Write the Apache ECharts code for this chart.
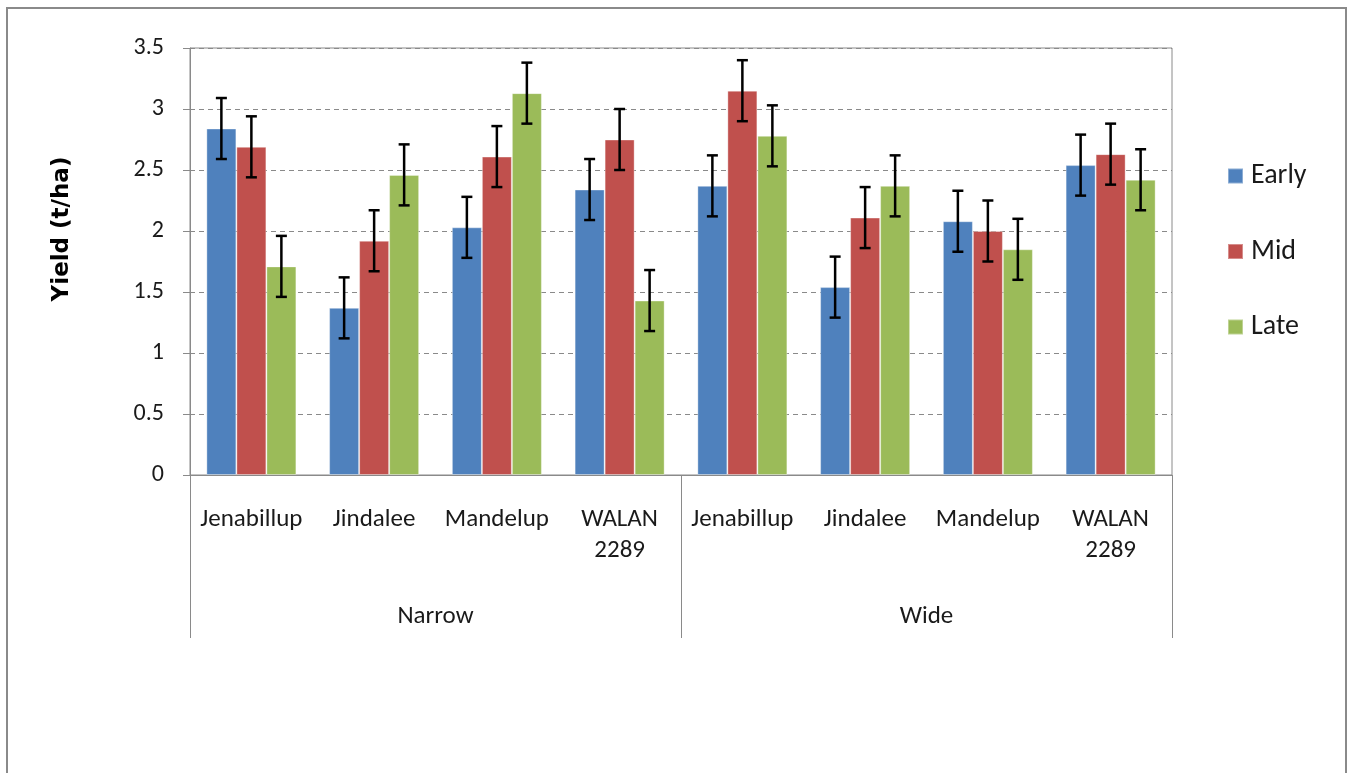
<!DOCTYPE html>
<html>
<head>
<meta charset="utf-8">
<script src="https://cdn.jsdelivr.net/npm/echarts@6/dist/echarts.min.js"></script>
<style>
html,body{margin:0;padding:0;background:#fff;}
#chart{width:1349px;height:773px;}
</style>
</head>
<body>
<div id="chart"></div>
<script>
// ---- data ----
const categories = ['Jenabillup', 'Jindalee', 'Mandelup', 'WALAN\n2289', 'Jenabillup', 'Jindalee', 'Mandelup', 'WALAN\n2289'];
const groups = ['Narrow', 'Wide'];
const seriesNames = ['Early', 'Mid', 'Late'];
const early = [2.84, 1.37, 2.03, 2.34, 2.37, 1.54, 2.08, 2.54];
const mid   = [2.69, 1.92, 2.61, 2.75, 3.15, 2.11, 2.00, 2.63];
const late  = [1.71, 2.46, 3.13, 1.43, 2.78, 2.37, 1.85, 2.42];
const errEarly = [0.25, 0.25, 0.25, 0.25, 0.25, 0.25, 0.25, 0.25];
const errMid   = [0.25, 0.25, 0.25, 0.25, 0.25, 0.25, 0.25, 0.25];
const errLate  = [0.25, 0.25, 0.25, 0.25, 0.25, 0.25, 0.25, 0.25];
const yTicks = [0, 0.5, 1, 1.5, 2, 2.5, 3, 3.5];

// ---- build ----
const values = [early, mid, late];
const errs = [errEarly, errMid, errLate];
const colors = ['#4F81BD', '#C0504D', '#9BBB59'];
const FONT = 'Carlito, Lato, sans-serif';
const GRAY = '#8a8a8a';
const BAR_W = 30;

const errData = [];
values.forEach((arr, s) => {
  arr.forEach((v, i) => {
    errData.push([i, v - errs[s][i], v + errs[s][i], s]);
  });
});

const barSeries = values.map((arr, s) => ({
  name: seriesNames[s],
  type: 'bar',
  data: arr,
  barWidth: BAR_W,
  barGap: '0%',
  itemStyle: { color: colors[s], borderColor: 'rgba(255,255,255,0.35)', borderWidth: 1 },
  emphasis: { disabled: true }
}));

const chart = echarts.init(document.getElementById('chart'));
chart.setOption({
  animation: false,
  backgroundColor: '#fff',
  textStyle: { fontFamily: FONT },
  graphic: [
    { type: 'rect', shape: { x: 7, y: 8, width: 1339, height: 790 },
      style: { fill: 'none', stroke: GRAY, lineWidth: 2 }, silent: true },
    { type: 'text', x: 62, y: 229, rotation: Math.PI / 2,
      style: { text: 'Yield (t/ha)', fontSize: 23, fontWeight: 'bold', fontFamily: '"DejaVu Sans", sans-serif',
               fill: '#000', align: 'center', verticalAlign: 'middle' } }
  ],
  grid: { left: 190, right: 177, top: 48, bottom: 298, show: true,
          borderColor: GRAY, borderWidth: 1, containLabel: false },
  legend: {
    orient: 'vertical', left: 1222, top: 157,
    itemWidth: 15, itemHeight: 15, itemGap: 47.5,
    icon: 'rect',
    data: seriesNames,
    textStyle: { fontSize: 28, lineHeight: 28, color: '#1a1a1a', fontFamily: FONT, padding: [0, 0, 0, 3] }
  },
  xAxis: [
    {
      type: 'category', data: categories, position: 'bottom',
      axisLine: { show: true, lineStyle: { color: GRAY, width: 1 } },
      axisTick: { show: false },
      axisLabel: { interval: 0, fontSize: 25, lineHeight: 31, margin: 29, color: '#1a1a1a', fontFamily: FONT }
    },
    {
      type: 'category', data: groups, position: 'bottom', offset: 0,
      axisLine: { show: false },
      axisTick: { show: true, length: 163, interval: 0, lineStyle: { color: GRAY, width: 1 } },
      axisLabel: { interval: 0, fontSize: 25, margin: 129, color: '#1a1a1a', fontFamily: FONT }
    }
  ],
  yAxis: {
    type: 'value', min: 0, max: 3.5, interval: 0.5,
    axisLine: { show: true, lineStyle: { color: GRAY, width: 1 } },
    axisTick: { show: true, length: 7, lineStyle: { color: GRAY } },
    axisLabel: { fontSize: 24, margin: 26, color: '#1a1a1a', fontFamily: FONT,
                 formatter: v => yTicks.includes(v) ? String(v) : '' },
    splitLine: { show: true, lineStyle: { color: GRAY, type: [5, 4], width: 1 } }
  },
  series: barSeries.concat([{
    type: 'custom',
    name: 'err',
    data: errData,
    encode: { x: 0, y: [1, 2] },
    z: 10,
    silent: true,
    renderItem: function (params, api) {
      const i = api.value(0), lo = api.value(1), hi = api.value(2), s = api.value(3);
      const pLo = api.coord([i, lo]);
      const pHi = api.coord([i, hi]);
      const cx = pLo[0] + (s - 1) * BAR_W;
      const cap = 5.5;
      const st = { stroke: '#000', lineWidth: 2.5 };
      return {
        type: 'group',
        children: [
          { type: 'line', shape: { x1: cx, y1: pLo[1], x2: cx, y2: pHi[1] }, style: st },
          { type: 'line', shape: { x1: cx - cap, y1: pLo[1], x2: cx + cap, y2: pLo[1] }, style: st },
          { type: 'line', shape: { x1: cx - cap, y1: pHi[1], x2: cx + cap, y2: pHi[1] }, style: st }
        ]
      };
    }
  }])
});
</script>
</body>
</html>
